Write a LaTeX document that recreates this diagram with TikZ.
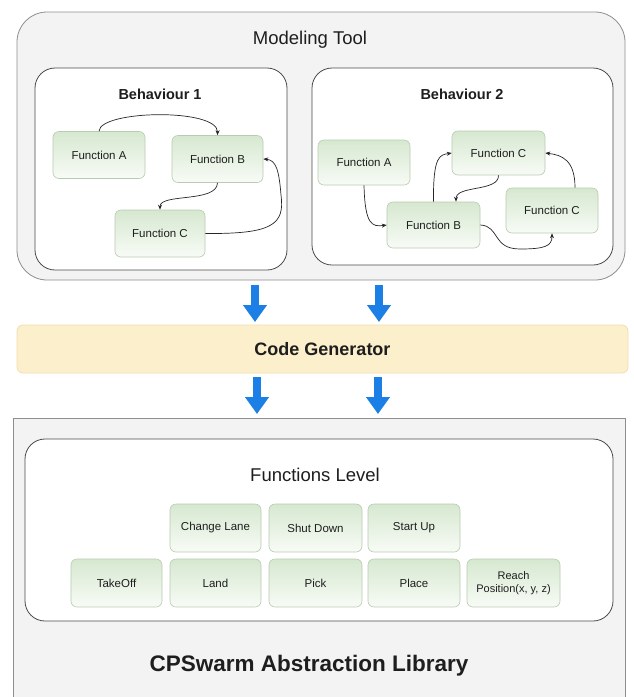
\documentclass[tikz,border=0pt]{standalone}
\usepackage{fontspec}
\setmainfont{Liberation Sans}
\usetikzlibrary{arrows.meta}
\definecolor{panelgray}{HTML}{F3F3F3}
\definecolor{panelborder}{HTML}{8E8E8E}
\definecolor{innerborder}{HTML}{4A4A4A}
\definecolor{fgreen}{HTML}{D6E8D0}
\definecolor{fwhite}{HTML}{F8FBF6}
\definecolor{fborder}{HTML}{B9CBB2}
\definecolor{cgfill}{HTML}{FCEFCB}
\definecolor{cgborder}{HTML}{F1DFB0}
\definecolor{arrowblue}{HTML}{1C7FE6}
\definecolor{txt}{HTML}{1E1E1E}
\tikzset{
  fnode/.style={draw=fborder, line width=0.6pt, rounded corners=6pt,
    top color=fgreen, bottom color=fwhite, minimum width=92pt, minimum height=47pt,
    inner sep=1pt, align=center, text=txt, font=\fontsize{11.5}{13}\selectfont},
  flow/.style={draw=black!85, line width=0.7pt, -{Stealth[length=5pt,width=4pt]}},
  bigarrow/.style={draw=arrowblue, line width=8pt, -{Triangle[length=17pt,width=23pt]}},
  behbox/.style={draw=innerborder, fill=white, line width=0.8pt, rounded corners=20pt},
}
\begin{document}
\begin{tikzpicture}[x=1pt,y=-1pt]
\useasboundingbox (0,0) rectangle (634,697);
\clip (0,0) rectangle (634,697);
\fill[white] (0,0) rectangle (634,697);
% Modeling tool panel
\draw[draw=panelborder, fill=panelgray, line width=0.8pt, rounded corners=30pt] (17,12) rectangle (625,280);
\node[text=txt, font=\fontsize{18.5}{20}\selectfont] (mtitle) at (310,40) {Modeling Tool};
% Behaviour boxes
\draw[behbox] (35,68) rectangle (287,270);
\draw[behbox] (312,68) rectangle (613,265);
\node[text=txt, font=\bfseries\fontsize{14.5}{16}\selectfont] (b1title) at (160,94) {Behaviour 1};
\node[text=txt, font=\bfseries\fontsize{14.5}{16}\selectfont] (b2title) at (462,94) {Behaviour 2};
% Behaviour 1 nodes
\node[fnode] (a1) at (99,155) {Function A};
\node[fnode, minimum width=91pt] (b1) at (217.5,159) {Function B};
\node[fnode, minimum width=90pt] (c1) at (160,233.5) {Function C};
\draw[flow] (a1.north) .. controls (100,110) and (218,108) .. (b1.north);
\draw[flow] (b1.south) .. controls (217,203) and (160,193) .. (c1.north);
\draw[flow] (c1.east) .. controls (272,234) and (285,225) .. (281,195) .. controls (279,170) and (276,160) .. (b1.east);
% Behaviour 2 nodes
\node[fnode, minimum height=45pt] (a2) at (364,162.5) {Function A};
\node[fnode, minimum width=93pt, minimum height=44pt] (ct2) at (498.5,153) {Function C};
\node[fnode, minimum width=93pt, minimum height=46pt] (b2) at (433.5,225) {Function B};
\node[fnode, minimum height=45pt] (cr2) at (552,210.5) {Function C};
\draw[flow] (a2.south) .. controls (365,225) and (372,227) .. (b2.west);
\draw[flow] (b2.north) .. controls (433,155) and (440,155) .. (ct2.west);
\draw[flow] (ct2.south) .. controls (499,192) and (456,185) .. (b2.north -| 456,0);
\draw[flow] (cr2.north -| 575,0) .. controls (575,160) and (562,155) .. (ct2.east);
\draw[flow] (b2.east) .. controls (500,226) and (492,249) .. (520,249) .. controls (545,249) and (552,246) .. (cr2.south);
% Blue arrows
\coordinate (u1s) at (255,285); \coordinate (u1e) at (255,322);
\coordinate (u2s) at (379,285); \coordinate (u2e) at (379,322);
\coordinate (d1s) at (257,377); \coordinate (d1e) at (257,414);
\coordinate (d2s) at (378,377); \coordinate (d2e) at (378,414);
\draw[bigarrow] (u1s) -- (u1e);
\draw[bigarrow] (u2s) -- (u2e);
\draw[bigarrow] (d1s) -- (d1e);
\draw[bigarrow] (d2s) -- (d2e);
% Code generator
\node[draw=cgborder, fill=cgfill, line width=0.8pt, rounded corners=6pt, minimum width=611pt, minimum height=48pt,
  text=txt, font=\bfseries\fontsize{18}{20}\selectfont] (cg) at (322.5,349) {Code Generator};
% Library panel
\draw[draw=panelborder, fill=panelgray, line width=0.8pt] (13,418) rectangle (625,720);
\draw[draw=innerborder, fill=white, line width=0.8pt, rounded corners=20pt] (25,439) rectangle (613,621);
\node[text=txt, font=\fontsize{18.5}{20}\selectfont] (fltitle) at (315,475) {Functions Level};
\node[fnode, minimum width=91pt, minimum height=48pt] (chl) at (215.5,528) {Change Lane};
\node[fnode, minimum width=93pt, minimum height=48pt] (shd) at (315.5,528) {Shut Down};
\node[fnode, minimum width=92pt, minimum height=48pt] (stu) at (414,528) {Start Up};
\node[fnode, minimum width=91pt, minimum height=48pt] (tko) at (116.5,583) {TakeOff};
\node[fnode, minimum width=91pt, minimum height=48pt] (lnd) at (215.5,583) {Land};
\node[fnode, minimum width=93pt, minimum height=48pt] (pck) at (315.5,583) {Pick};
\node[fnode, minimum width=92pt, minimum height=48pt] (plc) at (414,583) {Place};
\node[fnode, minimum width=93pt, minimum height=48pt, font=\fontsize{11}{13}\selectfont] (rch) at (513.5,583) {Reach\\Position(x, y, z)};
\node[text=txt, font=\bfseries\fontsize{22.5}{25}\selectfont] (libtitle) at (309,666) {CPSwarm Abstraction Library};
\end{tikzpicture}
\end{document}
